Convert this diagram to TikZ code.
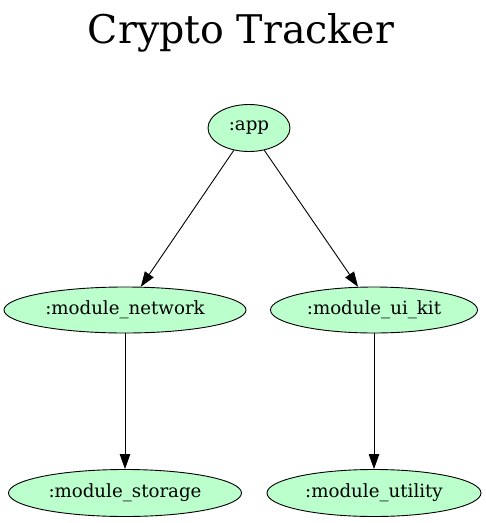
\documentclass[tikz,border=0pt]{standalone}
\usepackage{fontspec}
\setmainfont{DejaVu Serif}
\usetikzlibrary{shapes.geometric,arrows.meta}
\definecolor{nodegreen}{RGB}{187,255,204}
\begin{document}
\begin{tikzpicture}[x=1pt,y=-1pt,
  mod/.style={ellipse,draw=black,fill=nodegreen,inner sep=0pt,line width=0.9pt,
    font=\fontsize{18.2}{21}\selectfont},
  dep/.style={draw=black,line width=0.9pt,-{Triangle[length=15pt,width=10.5pt]}}]
\useasboundingbox (0,0) rectangle (486,523);
\node[anchor=base,font=\fontsize{39.5}{46}\selectfont] (title) at (241,43) {Crypto Tracker};
\node[mod,minimum width=82pt,minimum height=47pt] (app) at (249,128) {:app};
\node[mod,minimum width=242pt,minimum height=46pt] (net) at (125,310) {:module\_network};
\node[mod,minimum width=207pt,minimum height=46pt] (ui) at (374,310) {:module\_ui\_kit};
\node[mod,minimum width=233pt,minimum height=47pt] (sto) at (125,493) {:module\_storage};
\node[mod,minimum width=214pt,minimum height=47pt] (uti) at (374,493) {:module\_utility};
\draw[dep] (app) -- (net);
\draw[dep] (app) -- (ui);
\draw[dep] (net) -- (sto);
\draw[dep] (ui) -- (uti);
\end{tikzpicture}
\end{document}
